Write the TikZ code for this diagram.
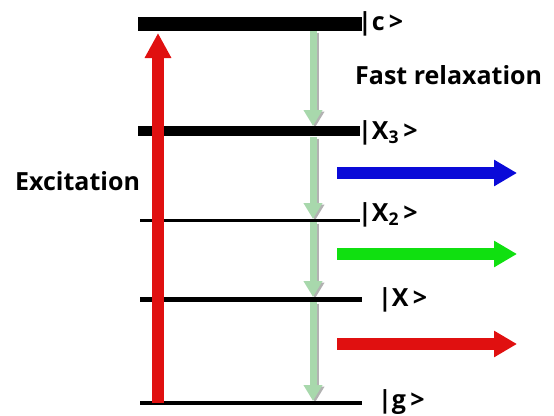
\documentclass[tikz,border=0pt]{standalone}
\usepackage{fontspec}
\setmainfont{Open Sans}
\usetikzlibrary{arrows.meta}
\definecolor{exred}{HTML}{E01010}
\definecolor{emblue}{HTML}{0A0AD8}
\definecolor{emgreen}{HTML}{10E010}
\definecolor{relgreen}{HTML}{A8D8AC}
\begin{document}
\begin{tikzpicture}[x=1pt,y=-1pt,
  level/.style={draw=black,line width=#1},
  lbl/.style={anchor=west,inner sep=0pt,font=\fontsize{25}{27}\selectfont\bfseries},
  emit/.style={draw=#1,line width=12pt,-{Triangle[width=25pt,length=23pt]}},
  relax/.style={draw=relgreen,line width=7pt,-{Triangle[width=18pt,length=16pt]}},
  relaxshadow/.style={draw=black!30,line width=7pt,-{Triangle[width=18pt,length=16pt]}}]
\useasboundingbox (0,0) rectangle (554,415);
% level coordinates
\coordinate (cL) at (138,24);  \coordinate (cR) at (362,24);
\coordinate (x3L) at (138,131); \coordinate (x3R) at (360,131);
\coordinate (x2L) at (140,220); \coordinate (x2R) at (360,220);
\coordinate (x1L) at (140,299); \coordinate (x1R) at (362,299);
\coordinate (gL) at (140,403);  \coordinate (gR) at (362,403);
% relaxation points
\coordinate (r0) at (313,31);  \coordinate (r1) at (313,126);
\coordinate (r1b) at (313,137); \coordinate (r2) at (313,219);
\coordinate (r2b) at (313,222); \coordinate (r3) at (313,297);
\coordinate (r3b) at (313,302); \coordinate (r4) at (313,401);
% excitation
\coordinate (e0) at (158,403); \coordinate (e1) at (158,33);
% emission
\coordinate (b0) at (337,173); \coordinate (b1) at (517,173);
\coordinate (g0) at (337,254); \coordinate (g1) at (517,254);
\coordinate (d0) at (337,344); \coordinate (d1) at (517,344);

% relaxation arrows (shadow then arrow)
\foreach \a/\b in {r0/r1,r1b/r2,r2b/r3,r3b/r4}{
  \draw[relaxshadow,transform canvas={shift={(2pt,-1.5pt)}}] (\a) -- (\b);
  \draw[relax] (\a) -- (\b);
}
% levels
\draw[level=14pt] (cL) -- (cR);
\draw[level=10pt] (x3L) -- (x3R);
\draw[level=3pt] (x2L) -- (x2R);
\draw[level=5pt] (x1L) -- (x1R);
\draw[level=4pt] (gL) -- (gR);
% excitation arrow
\draw[emit=exred,-{Triangle[width=25pt,length=25pt]}] (e0) -- (e1);
% emission arrows
\draw[emit=emblue] (b0) -- (b1);
\draw[emit=emgreen] (g0) -- (g1);
\draw[emit=exred] (d0) -- (d1);
% labels
\node[lbl] (lc) at (358,24) {|c\,>};
\node[lbl] (lfast) at (355,75) {Fast relaxation};
\node[lbl] (lx3) at (358,133) {|X\textsubscript{3}\,>};
\node[lbl] (lx2) at (358,215) {|X\textsubscript{2}\,>};
\node[lbl] (lx1) at (378,300) {|X\,>};
\node[lbl] (lg) at (378,402) {|g\,>};
\node[lbl] (lexc) at (15,181) {Excitation};
\end{tikzpicture}
\end{document}
